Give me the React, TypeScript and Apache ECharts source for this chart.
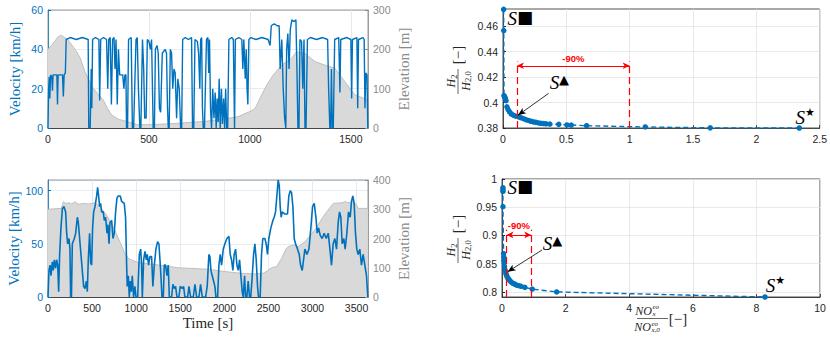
import React, { useEffect, useRef } from 'react';
import * as echarts from 'echarts';

// ---------- DATA ----------
// Cycle 1 (top-left): time [s] vs velocity [km/h]
const cycle1Velocity: [number, number][] = [
  [0,0],[3,20],[6,26],[9,15],[13,27],[19,26],[22,19],[25,27],[44,27],[47,12],[50,27],[72,27],[76,16],[80,27],[86,28],
  [90,45],[110,46],[140,45],[170,46],[199,45],[202,0],[209,0],[214,30],[217,10],[221,45],[235,46],[252,45],[256,14],
  [261,45],[275,46],[290,45],[296,20],[301,45],[308,46],[314,12],[320,45],[327,46],[332,30],[337,45],[343,12],[349,40],
  [355,27],[370,27],[376,20],[381,27],[386,27],[389,0],[394,0],[399,45],[412,46],[418,0],[424,0],[436,45],[442,46],
  [448,20],[455,0],[460,0],[468,45],[474,30],[479,5],[486,5],[492,45],[500,44],[507,40],[513,45],[521,0],[527,0],
  [532,40],[540,42],[546,38],[552,10],[558,8],[566,38],[580,40],[587,38],[592,10],[596,0],[600,0],[606,40],[612,38],
  [618,20],[624,30],[630,28],[637,5],[643,25],[650,20],[657,0],[662,0],[667,45],[680,46],[695,45],[711,46],[716,0],
  [722,0],[728,45],[740,44],[746,38],[752,20],[756,45],[761,46],[765,10],[769,0],[775,0],[785,45],[792,46],[796,28],
  [800,45],[805,10],[810,0],[816,20],[822,5],[828,18],[833,0],[838,15],[843,3],[848,25],[853,0],[859,20],[864,2],
  [870,15],[875,0],[880,20],[885,0],[890,0],[896,45],[910,46],[918,45],[924,0],[928,45],[945,46],[960,45],[965,30],
  [970,45],[977,25],[982,40],[986,20],[990,12],[995,45],[1005,46],[1030,45],[1060,46],[1090,45],[1100,42],[1106,52],
  [1120,53],[1135,52],[1145,52],[1150,30],[1158,45],[1165,20],[1172,5],[1178,0],[1182,40],[1188,48],[1194,30],
  [1200,50],[1208,55],[1218,54],[1228,55],[1233,30],[1238,0],[1243,0],[1248,45],[1256,44],[1262,20],[1268,45],
  [1273,0],[1278,0],[1285,45],[1300,46],[1330,45],[1360,46],[1385,45],[1390,20],[1396,0],[1400,0],[1404,30],[1408,0],
  [1413,0],[1420,45],[1440,46],[1446,18],[1450,45],[1480,46],[1500,45],[1504,15],[1508,45],[1530,46],[1534,10],
  [1538,45],[1560,46],[1566,45],[1570,10],[1574,28],[1580,27],[1584,0]
];
// Cycle 1 elevation [m]
const cycle1Elevation: [number, number][] = [
  [0,200],[25,215],[50,232],[65,236],[100,224],[142,194],[160,178],[183,143],[205,120],[224,101],[250,85],[274,71],
  [295,50],[315,33],[350,22],[381,18],[447,8],[530,9],[645,12],[777,17],[860,22],[942,29],[1000,42],[1025,49],
  [1058,84],[1083,109],[1116,135],[1157,160],[1206,177],[1231,194],[1272,190],[1322,169],[1371,160],[1421,152],
  [1470,118],[1520,84],[1569,75],[1584,72]
];
// Cycle 2 (bottom-left): time [s] vs velocity [km/h]
const cycle2Velocity: [number, number][] = [
  [0,0],[4,0],[11,25],[23,30],[34,20],[49,33],[60,25],[72,35],[87,27],[98,35],[110,30],[121,5],[132,40],[147,65],
  [163,83],[181,85],[200,80],[212,60],[223,50],[238,55],[249,45],[257,0],[266,0],[276,50],[299,55],[314,60],[333,75],
  [344,70],[359,55],[374,40],[389,25],[404,10],[419,8],[435,15],[446,5],[457,35],[472,60],[484,32],[495,30],[506,65],
  [518,80],[533,85],[552,95],[563,103],[574,95],[586,85],[597,88],[608,80],[627,80],[639,72],[654,75],[669,60],
  [680,68],[692,50],[703,70],[722,72],[737,55],[752,60],[767,80],[782,93],[797,95],[820,95],[835,90],[865,88],
  [880,75],[892,30],[899,10],[911,20],[922,0],[933,15],[945,5],[956,20],[971,0],[986,10],[998,0],[1017,0],[1036,40],
  [1051,45],[1062,30],[1070,0],[1085,35],[1100,43],[1115,35],[1126,40],[1141,30],[1156,38],[1175,38],[1190,10],
  [1206,30],[1224,45],[1243,52],[1258,50],[1270,35],[1281,20],[1293,0],[1308,0],[1319,30],[1334,30],[1349,20],
  [1364,30],[1376,0],[1402,0],[1417,12],[1432,8],[1447,10],[1463,0],[1485,0],[1500,10],[1523,8],[1538,10],[1553,0],
  [1584,0],[1599,10],[1618,0],[1648,0],[1667,12],[1686,0],[1712,0],[1731,12],[1750,0],[1788,0],[1806,10],[1825,40],
  [1837,38],[1848,25],[1863,20],[1878,15],[1893,10],[1905,0],[1924,0],[1939,30],[1954,40],[1969,30],[1988,45],
  [2007,50],[2029,55],[2052,57],[2067,40],[2082,35],[2097,25],[2112,40],[2128,45],[2143,30],[2158,25],[2173,35],
  [2188,20],[2203,5],[2215,0],[2230,20],[2241,0],[2256,0],[2271,15],[2286,0],[2300,0],[2317,20],[2332,40],[2347,50],
  [2362,35],[2377,10],[2388,0],[2407,0],[2422,40],[2437,55],[2460,55],[2475,50],[2490,40],[2505,55],[2528,65],
  [2551,72],[2566,75],[2581,80],[2596,95],[2611,110],[2623,105],[2634,85],[2645,75],[2657,80],[2687,78],[2717,78],
  [2732,95],[2748,100],[2763,98],[2778,85],[2793,55],[2808,50],[2831,45],[2850,40],[2865,30],[2884,25],[2899,35],
  [2914,45],[2937,40],[2960,45],[2982,65],[3001,85],[3020,88],[3039,75],[3054,60],[3069,65],[3088,58],[3110,55],
  [3133,60],[3156,55],[3179,60],[3198,45],[3216,30],[3235,50],[3254,55],[3273,45],[3292,70],[3307,80],[3322,75],
  [3337,50],[3356,55],[3371,45],[3390,60],[3409,80],[3428,75],[3443,90],[3458,95],[3473,88],[3488,60],[3503,45],
  [3518,40],[3537,45],[3556,30],[3575,40],[3594,30],[3613,20],[3628,0]
];
// Cycle 2 elevation [m]
const cycle2Elevation: [number, number][] = [
  [0,300],[150,303],[175,326],[200,320],[240,322],[270,318],[306,326],[344,317],[400,320],[457,318],[533,322],
  [590,309],[665,280],[741,240],[816,189],[873,149],[911,132],[960,125],[1024,118],[1213,111],[1478,100],[1818,95],
  [2007,87],[2196,81],[2347,79],[2450,82],[2498,92],[2536,100],[2593,104],[2650,132],[2700,165],[2725,172],
  [2782,178],[2839,172],[2914,189],[3027,229],[3122,275],[3235,320],[3330,322],[3368,326],[3420,322],[3462,328],
  [3500,315],[3518,303],[3628,303]
];
// Pareto front 1 (top-right): NOx ratio vs H2 ratio
const front1: [number, number][] = [
  [0.005,0.4732],[0.006,0.4566],[0.008,0.4055],[0.012,0.4045],[0.018,0.4035],[0.024,0.4015],[0.031,0.3966],
  [0.04,0.3945],[0.052,0.3926],[0.066,0.391],[0.084,0.39],[0.1,0.3893],[0.124,0.3887],[0.14,0.3881],[0.16,0.3874],
  [0.18,0.3866],[0.2,0.3859],[0.22,0.3853],[0.24,0.3848],[0.26,0.3844],[0.28,0.384],[0.3,0.3837],[0.32,0.3835],
  [0.34,0.3833],[0.37,0.3831],[0.44,0.3829],[0.505,0.3824],[0.539,0.3823],[0.66,0.3818],[1.123,0.3808],
  [1.636,0.3801],[2.339,0.38]
];
// Pareto front 2 (bottom-right)
const front2: [number, number][] = [
  [0.03,0.9845],[0.03,0.981],[0.03,0.978],[0.03,0.951],[0.05,0.868],[0.055,0.862],[0.062,0.856],[0.07,0.851],
  [0.08,0.845],[0.1,0.838],[0.12,0.833],[0.14,0.83],[0.16,0.827],[0.19,0.824],[0.22,0.822],[0.26,0.819],[0.3,0.817],
  [0.35,0.815],[0.4,0.814],[0.46,0.812],[0.53,0.811],[0.6,0.81],[0.72,0.808],[0.95,0.805],[1.72,0.8],[8.27,0.791]
];

const ticks1 = [0.38, 0.4, 0.42, 0.44, 0.46];
const ticks2 = [0.8, 0.85, 0.9, 0.95, 1];

// annotation anchors (data coordinates)
const redSpan1 = { x0: 0.11, x1: 1.0, bottom: 0.38, top: 0.4323, arrowY: 0.4289, textY: 0.4345 };
const redSpan2 = { x0: 0.14, x1: 0.92, bottom: 0.791, top: 0.91, arrowY: 0.901, textY: 0.918 };

// ---------- STYLE ----------
const BLUE = '#0072BD';
const DARK = '#262626';
const GRAY = '#8a8a8a';
const RED = '#ff0000';
const SANS = "'Liberation Sans', Arial, sans-serif";
const SERIF = "'Liberation Serif', 'DejaVu Serif', serif";

const fmt = (v: number) => String(v);
const tickLabel = (color: string) => ({ color, fontFamily: SANS, fontSize: 10.5, margin: 5, formatter: fmt });

function xAxisCfg(gridIndex: number, max: number, interval: number, hideMax: boolean, extra: any = {}) {
  return {
    type: 'value', gridIndex, min: 0, max, interval,
    axisLine: { show: true, onZero: false, lineStyle: { color: DARK, width: 0.8 } },
    axisTick: { show: true, inside: true, length: 3, lineStyle: { color: DARK, width: 0.8 } },
    axisLabel: { ...tickLabel(DARK), showMaxLabel: !hideMax },
    splitLine: { show: true, lineStyle: { color: '#e3e3e3', width: 0.8 } },
    ...extra,
  };
}

function annotations(span: any, labels: any[], arrow: number[][]) {
  const dashed = { color: RED, type: [7, 4], width: 1.2 };
  return {
    markLine: {
      silent: true, symbol: ['none', 'none'], label: { show: false },
      emphasis: { disabled: true },
      data: [
        [{ coord: [span.x0, span.bottom], lineStyle: dashed, symbol: 'none' }, { coord: [span.x0, span.top], symbol: 'none' }],
        [{ coord: [span.x1, span.bottom], lineStyle: dashed, symbol: 'none' }, { coord: [span.x1, span.top], symbol: 'none' }],
        [
          { coord: [span.x0, span.arrowY], symbol: 'arrow', symbolSize: [5, 7], lineStyle: { color: RED, type: 'solid', width: 1 } },
          { coord: [span.x1, span.arrowY], symbol: 'arrow', symbolSize: [5, 7] },
        ],
        [
          { coord: arrow[0], symbol: 'none', lineStyle: { color: '#000', type: 'solid', width: 0.8 } },
          { coord: arrow[1], symbol: 'arrow', symbolSize: [5, 8] },
        ],
      ],
    },
    markPoint: {
      silent: true, symbol: 'circle', symbolSize: 0,
      label: {
        show: true, position: 'inside',
        rich: {
          s: { fontFamily: SERIF, fontStyle: 'italic', fontSize: 19, color: '#000', lineHeight: 20 },
          sq: { fontFamily: "'DejaVu Sans'", fontSize: 17, color: '#000', verticalAlign: 'top', lineHeight: 14 },
          tr: { fontFamily: "'DejaVu Sans'", fontSize: 13, color: '#000', verticalAlign: 'top', lineHeight: 12 },
          st: { fontFamily: "'DejaVu Sans'", fontSize: 11, color: '#000', verticalAlign: 'top', lineHeight: 10 },
          pct: { fontFamily: SANS, fontWeight: 'bold', fontSize: 9.5, color: RED },
        },
      },
      data: [
        { coord: [(span.x0 + span.x1) / 2, span.textY], label: { formatter: '{pct|-90%}' } },
        ...labels,
      ],
    },
  };
}

const mathRich = {
  h: { fontFamily: SERIF, fontStyle: 'italic', fontSize: 12, fill: DARK, lineHeight: 14 },
  sn: { fontFamily: SERIF, fontSize: 8.5, fill: DARK, lineHeight: 9, verticalAlign: 'bottom' },
};

function fracYLabel(cx: number, cy: number) {
  return {
    type: 'group', x: cx, y: cy, rotation: Math.PI / 2, silent: true,
    children: [
      { type: 'text', x: -12, y: 0, style: { text: '{h|H}{sn|2}', rich: mathRich, align: 'center', verticalAlign: 'bottom' } },
      { type: 'line', shape: { x1: -25, y1: 0, x2: 0, y2: 0 }, style: { stroke: DARK, lineWidth: 0.7 } },
      { type: 'text', x: -12, y: 0.5, style: { text: '{h|H}{sn|2,0}', rich: mathRich, align: 'center', verticalAlign: 'top' } },
      { type: 'text', x: 14, y: 0, style: { fontFamily: SERIF, fontSize: 15, fill: DARK, text: '[−]', align: 'center', verticalAlign: 'middle' } },
    ],
  };
}

function noxTerm(x: number, yMid: number, sub: string) {
  // "NO" with stacked superscript "eo" and subscript
  const it = { fontFamily: SERIF, fontStyle: 'italic', fill: DARK };
  return [
    { type: 'text', x, y: yMid, style: { ...it, text: 'NO', fontSize: 12, align: 'right', verticalAlign: 'middle' } },
    { type: 'text', x: x + 0.5, y: yMid - 3.2, style: { ...it, text: 'eo', fontSize: 7, align: 'left', verticalAlign: 'middle' } },
    { type: 'text', x: x + 0.5, y: yMid + 3.2, style: { ...it, text: sub, fontSize: 7, align: 'left', verticalAlign: 'middle' } },
  ];
}

export default function App() {
  const ref = useRef<HTMLDivElement>(null);
  useEffect(() => {
    if (!ref.current) return;
    const chart = echarts.init(ref.current, undefined, { renderer: 'svg' });
    const leftGridLine = { color: 'rgba(0,114,189,0.15)', width: 0.8 };
    const option: any = {
      animation: false,
      backgroundColor: '#ffffff',
      grid: [
        { left: 48, top: 10, width: 320, height: 118, show: true, borderColor: '#808080', borderWidth: 0.8 },
        { left: 48, top: 180, width: 320, height: 117, show: true, borderColor: '#808080', borderWidth: 0.8 },
        { left: 503, top: 9, width: 317, height: 119, show: true, borderColor: DARK, borderWidth: 0.8 },
        { left: 502, top: 179, width: 318, height: 118, show: true, borderColor: DARK, borderWidth: 0.8 },
      ],
      xAxis: [
        xAxisCfg(0, 1585, 500, true),
        xAxisCfg(1, 3630, 500, true, {
          name: 'Time [s]', nameLocation: 'middle', nameGap: 18,
          nameTextStyle: { color: DARK, fontFamily: SERIF, fontSize: 15 },
        }),
        xAxisCfg(2, 2.5, 0.5, false),
        xAxisCfg(3, 10, 2, false),
      ],
      yAxis: [
        {
          type: 'value', gridIndex: 0, position: 'left', min: 0, max: 60, interval: 20,
          name: 'Velocity [km/h]', nameLocation: 'middle', nameGap: 26, nameRotate: 90,
          nameTextStyle: { color: BLUE, fontFamily: SERIF, fontSize: 15 },
          axisLine: { show: true, lineStyle: { color: BLUE, width: 0.8 } },
          axisTick: { show: true, inside: true, length: 3, lineStyle: { color: BLUE } },
          axisLabel: tickLabel(BLUE),
          splitLine: { show: true, lineStyle: leftGridLine },
        },
        {
          type: 'value', gridIndex: 0, position: 'right', min: 0, max: 300, interval: 100,
          name: 'Elevation [m]', nameLocation: 'middle', nameGap: 28, nameRotate: 90,
          nameTextStyle: { color: GRAY, fontFamily: SERIF, fontSize: 15 },
          axisLine: { show: true, lineStyle: { color: GRAY, width: 0.8 } },
          axisTick: { show: true, inside: true, length: 3, lineStyle: { color: GRAY } },
          axisLabel: tickLabel(GRAY),
          splitLine: { show: false },
        },
        {
          type: 'value', gridIndex: 1, position: 'left', min: 0, max: 110, interval: 50,
          name: 'Velocity [km/h]', nameLocation: 'middle', nameGap: 26, nameRotate: 90,
          nameTextStyle: { color: BLUE, fontFamily: SERIF, fontSize: 15 },
          axisLine: { show: true, lineStyle: { color: BLUE, width: 0.8 } },
          axisTick: { show: true, inside: true, length: 3, lineStyle: { color: BLUE } },
          axisLabel: { ...tickLabel(BLUE), showMaxLabel: false },
          splitLine: { show: true, lineStyle: leftGridLine },
        },
        {
          type: 'value', gridIndex: 1, position: 'right', min: 0, max: 400, interval: 100,
          name: 'Elevation [m]', nameLocation: 'middle', nameGap: 28, nameRotate: 90,
          nameTextStyle: { color: GRAY, fontFamily: SERIF, fontSize: 15 },
          axisLine: { show: true, lineStyle: { color: GRAY, width: 0.8 } },
          axisTick: { show: true, inside: true, length: 3, lineStyle: { color: GRAY } },
          axisLabel: tickLabel(GRAY),
          splitLine: { show: false },
        },
        {
          type: 'value', gridIndex: 2, min: 0.38, max: 0.4735,
          axisLine: { show: true, lineStyle: { color: DARK, width: 0.8 } },
          axisTick: { show: true, inside: true, length: 3, lineStyle: { color: DARK }, customValues: ticks1 },
          axisLabel: { ...tickLabel(DARK), customValues: ticks1 },
          splitLine: { show: true, lineStyle: { color: '#e3e3e3', width: 0.8 } },
        },
        {
          type: 'value', gridIndex: 3, min: 0.791, max: 1,
          axisLine: { show: true, lineStyle: { color: DARK, width: 0.8 } },
          axisTick: { show: true, inside: true, length: 3, lineStyle: { color: DARK }, customValues: ticks2 },
          axisLabel: { ...tickLabel(DARK), customValues: ticks2 },
          splitLine: { show: true, lineStyle: { color: '#e3e3e3', width: 0.8 } },
        },
      ],
      series: [
        {
          type: 'line', xAxisIndex: 0, yAxisIndex: 1, data: cycle1Elevation, showSymbol: false, silent: true,
          lineStyle: { color: '#b5b5b5', width: 0.8 }, areaStyle: { color: '#d9d9d9', opacity: 1 }, z: 1,
        },
        {
          type: 'line', xAxisIndex: 0, yAxisIndex: 0, data: cycle1Velocity, showSymbol: false, silent: true,
          lineStyle: { color: BLUE, width: 1.4 }, z: 3,
        },
        {
          type: 'line', xAxisIndex: 1, yAxisIndex: 3, data: cycle2Elevation, showSymbol: false, silent: true,
          lineStyle: { color: '#b5b5b5', width: 0.8 }, areaStyle: { color: '#d9d9d9', opacity: 1 }, z: 1,
        },
        {
          type: 'line', xAxisIndex: 1, yAxisIndex: 2, data: cycle2Velocity, showSymbol: false, silent: true,
          lineStyle: { color: BLUE, width: 1.6 }, z: 3,
        },
        {
          type: 'line', xAxisIndex: 2, yAxisIndex: 4, data: front1, symbol: 'circle', symbolSize: 5.5, silent: true,
          itemStyle: { color: BLUE }, lineStyle: { color: BLUE, width: 1.4, type: [5, 3] }, z: 3,
          ...annotations(redSpan1, [
            { coord: [0.137, 0.4661], label: { formatter: '{s|S}{sq|■}' } },
            { coord: [0.445, 0.4154], label: { formatter: '{s|S}{tr|▲}' } },
            { coord: [2.386, 0.3885], label: { formatter: '{s|S}{st|★}' } },
          ], [[0.36, 0.4072], [0.118, 0.390]]),
        },
        {
          type: 'line', xAxisIndex: 3, yAxisIndex: 5, data: front2, symbol: 'circle', symbolSize: 5.5, silent: true,
          itemStyle: { color: BLUE }, lineStyle: { color: BLUE, width: 1.4, type: [5, 3] }, z: 3,
          ...annotations(redSpan2, [
            { coord: [0.575, 0.9845], label: { formatter: '{s|S}{sq|■}' } },
            { coord: [1.59, 0.8849], label: { formatter: '{s|S}{tr|▲}' } },
            { coord: [8.6, 0.812], label: { formatter: '{s|S}{st|★}' } },
          ], [[1.257, 0.8742], [0.176, 0.8356]]),
        },
      ],
      graphic: [
        fracYLabel(458, 69),
        fracYLabel(458, 238),
        {
          type: 'group', x: 0, y: 0, silent: true,
          children: [
            ...noxTerm(652, 310.5, 'x'),
            { type: 'line', shape: { x1: 637, y1: 318.5, x2: 668, y2: 318.5 }, style: { stroke: DARK, lineWidth: 0.7 } },
            ...noxTerm(651, 327, 'x,0'),
            { type: 'text', x: 678, y: 319, style: { text: '[−]', fontFamily: SERIF, fontSize: 15, fill: DARK, align: 'center', verticalAlign: 'middle' } },
          ],
        },
      ],
    };
    chart.setOption(option);
    return () => chart.dispose();
  }, []);
  return <div ref={ref} style={{ position: 'absolute', left: 0, top: 0, width: 830, height: 341 }} />;
}
